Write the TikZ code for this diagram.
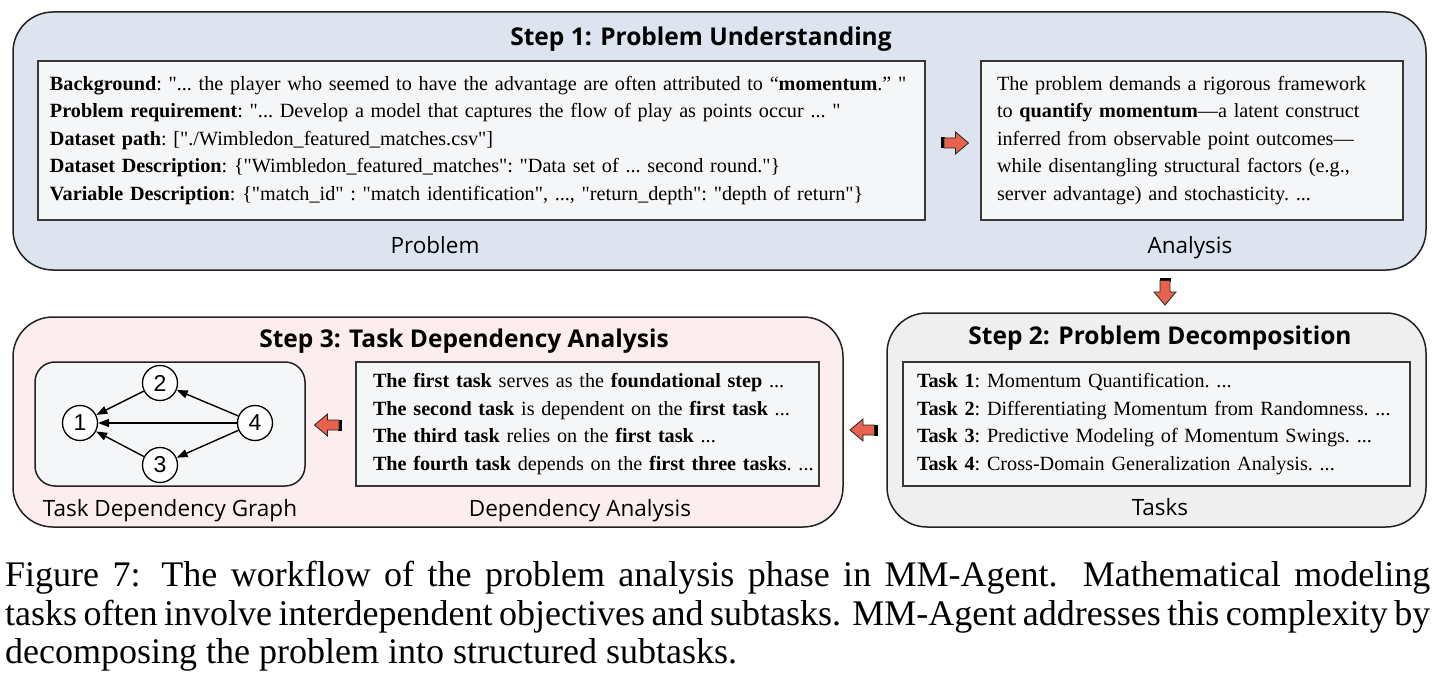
\documentclass[tikz,border=0pt]{standalone}
\usepackage{fontspec}
\setmainfont{Liberation Serif}[Ligatures=TeXOff]
\newfontfamily\titlefont{Open Sans}
\newfontfamily\labelfont{Open Sans}
\newfontfamily\numfont{Liberation Sans}
\usetikzlibrary{arrows.meta,calc}
\definecolor{bluebg}{HTML}{DEE4EF}
\definecolor{graybg}{HTML}{EFEFEF}
\definecolor{pinkbg}{HTML}{FCEEEE}
\definecolor{innerbg}{HTML}{F5F6F8}
\definecolor{arrowred}{HTML}{E8634E}
\definecolor{edgec}{HTML}{222222}
\tikzset{
  outerbox/.style={draw=edgec, line width=1.5pt, rounded corners=40pt, inner sep=0pt},
  innerbox/.style={draw=edgec!90, line width=1.8pt, fill=innerbg, inner ysep=0pt, align=left,
    font=\fontsize{20.2}{27.5}\selectfont\frenchspacing},
  steptitle/.style={font=\titlefont\bfseries\fontsize{24.5}{28}\selectfont, inner sep=0pt, anchor=base},
  boxlabel/.style={font=\labelfont\fontsize{22.5}{26}\selectfont, inner sep=0pt, anchor=base},
  tasknode/.style={circle, draw=black, line width=1.3pt, fill=white, minimum size=35pt,
    inner sep=0pt, font=\numfont\fontsize{23}{26}\selectfont},
  depedge/.style={line width=1.4pt, -{Triangle[length=11pt,width=8pt]}},
  captionline/.style={inner sep=0pt, anchor=base west, font=\fontsize{36}{40}\selectfont},
  pics/blockarr/.style={code={
    \fill[black] (-14,-5.5) rectangle (-10,5.5);
    \draw[fill=arrowred, draw=edgec, line width=0.8pt]
      (-11,-5) -- (0.5,-5) -- (0.5,-11) -- (13.5,0) -- (0.5,11) -- (0.5,5) -- (-11,5) -- cycle;
  }}
}
\begin{document}
\begin{tikzpicture}[x=1pt,y=-1pt]
\useasboundingbox (0,0) rectangle (1440,679);
% Step 1
\node[outerbox, fill=bluebg, minimum width=1413pt, minimum height=258pt] (s1) at (719.5,141) {};
\node[steptitle] (t1) at (701,46) {Step 1: Problem Understanding};
\node[innerbox, minimum height=159pt, text width=873pt, inner xsep=7pt] (prob) at (481.5,140.5) {%
\hspace*{5pt}\textbf{Background}: "... the player who seemed to have the advantage are often attributed to “\textbf{momentum}.” "\\
\hspace*{5pt}\textbf{Problem requirement}: "... Develop a model that captures the flow of play as points occur ... "\\
\hspace*{5pt}\textbf{Dataset path}: ["./Wimbledon\_featured\_matches.csv"]\\
\hspace*{5pt}\textbf{Dataset Description}: \{"Wimbledon\_featured\_matches": "Data set of ... second round."\}\\
\hspace*{5pt}\textbf{Variable Description}: \{"match\_id" : "match identification", ..., "return\_depth": "depth of return"\}};
\node[innerbox, minimum height=159pt, text width=408pt, inner xsep=7pt] (ana) at (1192,140.5) {%
\hspace*{9pt}The problem demands a rigorous framework\\
\hspace*{9pt}to \textbf{quantify momentum}—a latent construct\\
\hspace*{9pt}inferred from observable point outcomes—\\
\hspace*{9pt}while disentangling structural factors (e.g.,\\
\hspace*{9pt}server advantage) and stochasticity. ...};
\node[boxlabel] (lprob) at (435,253) {Problem};
\node[boxlabel] (lana) at (1190,253) {Analysis};
\pic[rotate=0] (a1) at (955,143) {blockarr};
% Step 2
\node[outerbox, fill=graybg, minimum width=539pt, minimum height=214pt] (s2) at (1156.5,420) {};
\node[steptitle] (t2) at (1160,344) {Step 2: Problem Decomposition};
\node[innerbox, minimum height=124pt, text width=493pt, inner xsep=7pt] (tasks) at (1156.5,424) {%
\hspace*{7pt}\textbf{Task 1}: Momentum Quantification. ...\\
\hspace*{7pt}\textbf{Task 2}: Differentiating Momentum from Randomness. ...\\
\hspace*{7pt}\textbf{Task 3}: Predictive Modeling of Momentum Swings. ...\\
\hspace*{7pt}\textbf{Task 4}: Cross-Domain Generalization Analysis. ...};
\node[boxlabel] (ltasks) at (1160,515) {Tasks};
\pic[rotate=-90] (a2) at (1165,291.5) {blockarr};
% Step 3
\node[outerbox, fill=pinkbg, minimum width=830pt, minimum height=210pt] (s3) at (428,422) {};
\node[steptitle] (t3) at (464,347) {Step 3: Task Dependency Analysis};
\node[draw=edgec, line width=1.5pt, fill=innerbg, rounded corners=20pt, minimum width=270pt,
  minimum height=124pt, inner sep=0pt] (graph) at (170,424) {};
\node[innerbox, minimum height=124pt, text width=456pt, inner xsep=3.5pt] (deps) at (587.5,424) {%
\hspace*{13.5pt}\textbf{The first task} serves as the \textbf{foundational step} ...\\
\hspace*{13.5pt}\textbf{The second task} is dependent on the \textbf{first task} ...\\
\hspace*{13.5pt}\textbf{The third task} relies on the \textbf{first task} ...\\
\hspace*{13.5pt}\textbf{The fourth task} depends on the \textbf{first three tasks}. ...};
\node[boxlabel] (lgraph) at (170,516) {Task Dependency Graph};
\node[boxlabel] (ldeps) at (580,516) {Dependency Analysis};
\pic[rotate=180] (a3) at (863.5,430) {blockarr};
\pic[rotate=180] (a4) at (328,425) {blockarr};
% graph
\node[tasknode] (n1) at (80,423) {1};
\node[tasknode] (n2) at (160,383) {2};
\node[tasknode] (n3) at (160,465) {3};
\node[tasknode] (n4) at (255,423) {4};
\draw[depedge] (n2) -- (n1);
\draw[depedge] (n3) -- (n1);
\draw[depedge] (n4) -- (n1);
\draw[depedge] (n4) -- (n2);
\draw[depedge] (n4) -- (n3);
% caption
\node[captionline] (c1) at (5,586.7) {\makebox[1425pt][s]{Figure 7: The workflow of the problem analysis phase in MM-Agent. Mathematical modeling}};
\node[captionline] (c2) at (5,625.5) {\makebox[1425pt][s]{tasks often involve interdependent objectives and subtasks. MM-Agent addresses this complexity by}};
\node[captionline] (c3) at (5,663) {decomposing the problem into structured subtasks.};
\end{tikzpicture}
\end{document}
